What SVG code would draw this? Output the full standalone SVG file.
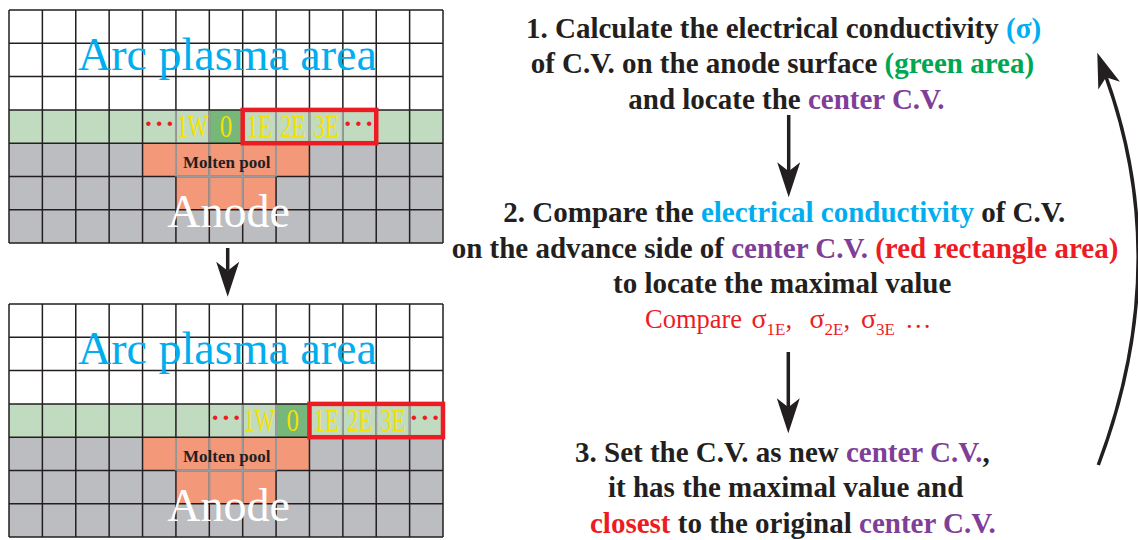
<svg xmlns="http://www.w3.org/2000/svg" width="1138" height="540" viewBox="0 0 1138 540">
<style>
.serif{font-family:"Liberation Serif","Times New Roman",serif}
.big{font-size:46px;text-anchor:middle}
.arc{fill:#00aeef}
.anode{fill:#ffffff}
.pool{font-size:17px;font-weight:bold;fill:#231f20;text-anchor:middle}
.lbl{font-size:32px;fill:#f5e100;text-anchor:middle}
.dots{font-size:28px;font-weight:bold;fill:#ed1c24;text-anchor:middle;letter-spacing:1.5px}
.grid{fill:none;stroke:#231f20;stroke-width:1.5}
.soft{fill:none;stroke:#9b9b9b;stroke-width:2}
.sel{fill:none;stroke:#ed1c24;stroke-width:4.5}
.w{fill:#ffffff}.lg{fill:#c0dbbf}.dg{fill:#77b77a}.gr{fill:#bcbdc1}.mp{fill:#f4987a}
.step{font-family:"Liberation Serif","Times New Roman",serif;font-weight:bold;font-size:29px;fill:#231f20}
.cmp{font-weight:normal;font-size:26.5px;fill:#ed1c24}
.sub{font-size:17px}
.sg{font-size:28px}
.cy{fill:#00aeef}.gn{fill:#00a651}.pu{fill:#7f3f98}.rd{fill:#ed1c24}
.conn{fill:none;stroke:#231f20;stroke-width:3.5;marker-end:url(#arrow)}
</style>
<defs>
<marker id="arrow" markerUnits="userSpaceOnUse" viewBox="-10 -14 38 28" refX="0" refY="0" markerWidth="38" markerHeight="28" orient="auto">
<path d="M26,0 L-9,-11.5 L0,0 L-9,11.5 Z" fill="#231f20"/>
</marker>
<path id="gridlines" class="grid" d="M0 0V233.1M33.38 0V233.1M66.77 0V233.1M100.15 0V233.1M133.54 0V233.1M166.92 0V233.1M200.31 0V233.1M233.69 0V233.1M267.08 0V233.1M300.46 0V233.1M333.85 0V233.1M367.23 0V233.1M400.62 0V233.1M434 0V233.1M0 0H434M0 33.3H434M0 66.6H434M0 99.9H434M0 133.2H434M0 166.5H434M0 199.8H434M0 233.1H434"/>
<path id="poolsoft" class="soft" d="M166.92 134V166.5M200.31 134V199M233.69 134V199M267.08 134V166.5M167.7 166.5H266.3"/>
<g id="cells">
<rect class="w" x="0" y="0" width="434" height="99.9"/>
<rect class="lg" x="0" y="99.9" width="434" height="33.3"/>
<rect class="gr" x="0" y="133.2" width="434" height="99.9"/>
<rect class="mp" x="133.54" y="133.2" width="166.92" height="33.3"/>
<rect class="mp" x="166.92" y="166.5" width="100.16" height="33.3"/>
</g>
</defs>

<g id="grid-before" transform="translate(9,10)">
<use href="#cells"/>
<rect class="dg" x="200.31" y="99.9" width="33.38" height="33.3"/>
<use href="#gridlines"/>
<path class="soft" d="M166.92 100.7V132.4M200.31 100.7V132.4M267.08 100.7V132.4M300.46 100.7V132.4M333.85 100.7V132.4"/>
<use href="#poolsoft"/>
<text class="serif big arc" x="218.5" y="60">Arc plasma area</text>
<text class="serif pool" x="217.7" y="158">Molten pool</text>
<text class="serif big anode" x="219.5" y="216.7">Anode</text>
<rect class="sel" x="233.69" y="99.9" width="133.54" height="33.3"/>
<text class="serif dots" x="150.9" y="123">···</text>
<text class="serif lbl" transform="translate(183.62,126.5) scale(0.68,1)">1W</text>
<text class="serif lbl" transform="translate(217,126.5) scale(0.78,1)">0</text>
<text class="serif lbl" transform="translate(250.39,126.5) scale(0.71,1)">1E</text>
<text class="serif lbl" transform="translate(283.77,126.5) scale(0.71,1)">2E</text>
<text class="serif lbl" transform="translate(317.16,126.5) scale(0.71,1)">3E</text>
<text class="serif dots" x="350.2" y="123">···</text>
</g>

<g id="grid-after" transform="translate(9,304)">
<use href="#cells"/>
<rect class="dg" x="267.08" y="99.9" width="33.38" height="33.3"/>
<use href="#gridlines"/>
<path class="soft" d="M233.69 100.7V132.4M267.08 100.7V132.4M333.85 100.7V132.4M367.23 100.7V132.4M400.62 100.7V132.4"/>
<use href="#poolsoft"/>
<text class="serif big arc" x="218.5" y="60">Arc plasma area</text>
<text class="serif pool" x="217.7" y="157.5">Molten pool</text>
<text class="serif big anode" x="219.5" y="216.7">Anode</text>
<rect class="sel" x="300.46" y="99.9" width="133.54" height="33.3"/>
<text class="serif dots" x="217.7" y="123">···</text>
<text class="serif lbl" transform="translate(250.39,126.5) scale(0.68,1)">1W</text>
<text class="serif lbl" transform="translate(283.77,126.5) scale(0.78,1)">0</text>
<text class="serif lbl" transform="translate(317.16,126.5) scale(0.71,1)">1E</text>
<text class="serif lbl" transform="translate(350.54,126.5) scale(0.71,1)">2E</text>
<text class="serif lbl" transform="translate(383.93,126.5) scale(0.71,1)">3E</text>
<text class="serif dots" x="416.6" y="123">···</text>
</g>

<g id="step1">
<text class="step" x="526" y="37.5">1. Calculate the electrical conductivity <tspan class="cy">(σ)</tspan></text>
<text class="step" x="530.7" y="73.3">of C.V. on the anode surface <tspan class="gn">(green area)</tspan></text>
<text class="step" x="628.3" y="109">and locate the <tspan class="pu">center C.V.</tspan></text>
</g>

<g id="step2">
<text class="step" x="503.3" y="221.7">2. Compare the <tspan class="cy">electrical conductivity</tspan> of C.V.</text>
<text class="step" x="451.7" y="257.7">on the advance side of <tspan class="pu">center C.V.</tspan> <tspan class="rd">(red rectangle area)</tspan></text>
<text class="step" x="613" y="293">to locate the maximal value</text>
<text class="step cmp" x="645" y="327.7">Compare <tspan class="sg" x="751.5">σ</tspan><tspan class="sub" dy="7">1E</tspan><tspan dy="-7">,</tspan><tspan class="sg" x="809.5">σ</tspan><tspan class="sub" dy="7">2E</tspan><tspan dy="-7">,</tspan><tspan class="sg" x="861">σ</tspan><tspan class="sub" dy="7">3E</tspan><tspan x="905" dy="-7">…</tspan></text>
</g>

<g id="step3">
<text class="step" x="575" y="461.7">3. Set the C.V. as new <tspan class="pu">center C.V.</tspan>,</text>
<text class="step" x="608" y="496.7">it has the maximal value and</text>
<text class="step" x="590" y="532.7"><tspan class="rd">closest</tspan> to the original <tspan class="pu">center C.V.</tspan></text>
</g>

<g id="connectors">
<path class="conn" d="M227.7,248 V270.7"/>
<path class="conn" d="M788.7,115 V171.3"/>
<path class="conn" d="M788.3,352 V407.3"/>
<path class="conn" d="M1098.3,465 Q1173.9,265.4 1106.1,77.2"/>
</g>
</svg>
